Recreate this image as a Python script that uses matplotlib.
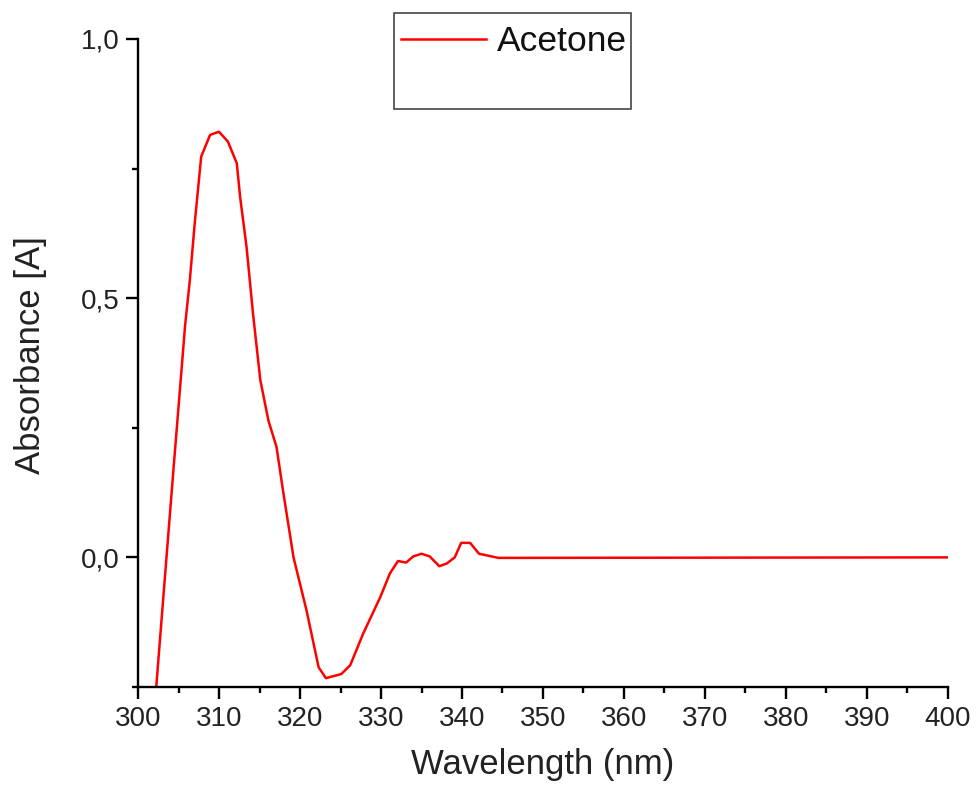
import matplotlib
matplotlib.use('Agg')
import matplotlib.pyplot as plt
from matplotlib.patches import Rectangle
from matplotlib.ticker import MultipleLocator, FuncFormatter

plt.rcParams['font.family'] = ['Liberation Sans', 'DejaVu Sans']

# Espectro de absorbancia
wavelength = [302.2, 303.5, 304.4, 305.4, 305.8, 306.4, 307.0, 307.8, 308.9, 310.0,
              311.1, 312.2, 312.6, 313.4, 314.2, 315.1, 316.1, 317.1, 317.9, 319.2,
              320.8, 322.3, 323.2, 325.1, 326.2, 327.8, 329.9, 331.1, 332.1, 333.1,
              334.0, 335.0, 336.0, 337.2, 338.1, 339.1, 339.9, 341.0, 342.1, 344.5,
              400.0]
absorbance = [-0.26, -0.003, 0.174, 0.367, 0.445, 0.535, 0.644, 0.773, 0.815, 0.821,
              0.802, 0.760, 0.696, 0.599, 0.470, 0.342, 0.264, 0.213, 0.129, 0.0,
              -0.102, -0.212, -0.233, -0.225, -0.208, -0.147, -0.077, -0.031, -0.007, -0.010,
              0.002, 0.007, 0.002, -0.017, -0.012, 0.0, 0.028, 0.028, 0.007, -0.001,
              0.0]
serie = 'Acetone'

fig = plt.figure(figsize=(9.76, 7.92), dpi=100)
ax = fig.add_axes([0.1414, 0.1326, 0.8299, 0.8182])

ax.plot(wavelength, absorbance, color='#ff0000', linewidth=1.8, label=serie)

ax.set_xlim(300, 400)
ax.set_ylim(-0.25, 1.0)
ax.xaxis.set_major_locator(MultipleLocator(10))
ax.xaxis.set_minor_locator(MultipleLocator(5))
ax.yaxis.set_major_locator(MultipleLocator(0.5))
ax.yaxis.set_minor_locator(MultipleLocator(0.25))
ax.yaxis.set_major_formatter(FuncFormatter(lambda v, p: f'{v:.1f}'.replace('.', ',')))

for s in ['top', 'right']:
    ax.spines[s].set_visible(False)
for s in ['left', 'bottom']:
    ax.spines[s].set_linewidth(1.7)
ax.tick_params(which='major', direction='out', length=8.5, width=1.7, labelsize=20, pad=5,
               labelcolor='#222222')
ax.tick_params(which='minor', direction='out', length=4.5, width=1.7)

ax.set_xlabel('Wavelength (nm)', fontsize=25, labelpad=12, color='#222222')
ax.set_ylabel('Absorbance [A]', fontsize=25, labelpad=24, color='#222222')
ax.yaxis.label.set_y(0.512)

# leyenda estilo Origin
leg = ax.legend(loc='upper left', bbox_to_anchor=(0.404, 0.977), bbox_transform=fig.transFigure,
                frameon=False, fontsize=25.5, handlelength=2.4, handletextpad=0.3,
                borderpad=0.2, borderaxespad=0)
for t in leg.get_texts():
    t.set_color('#111111')
fig.patches.append(Rectangle((0.4037, 0.8624), 0.2428, 0.1212, transform=fig.transFigure,
                             fill=False, edgecolor='#444444', linewidth=1.2))

fig.savefig('out.png', dpi=100)
